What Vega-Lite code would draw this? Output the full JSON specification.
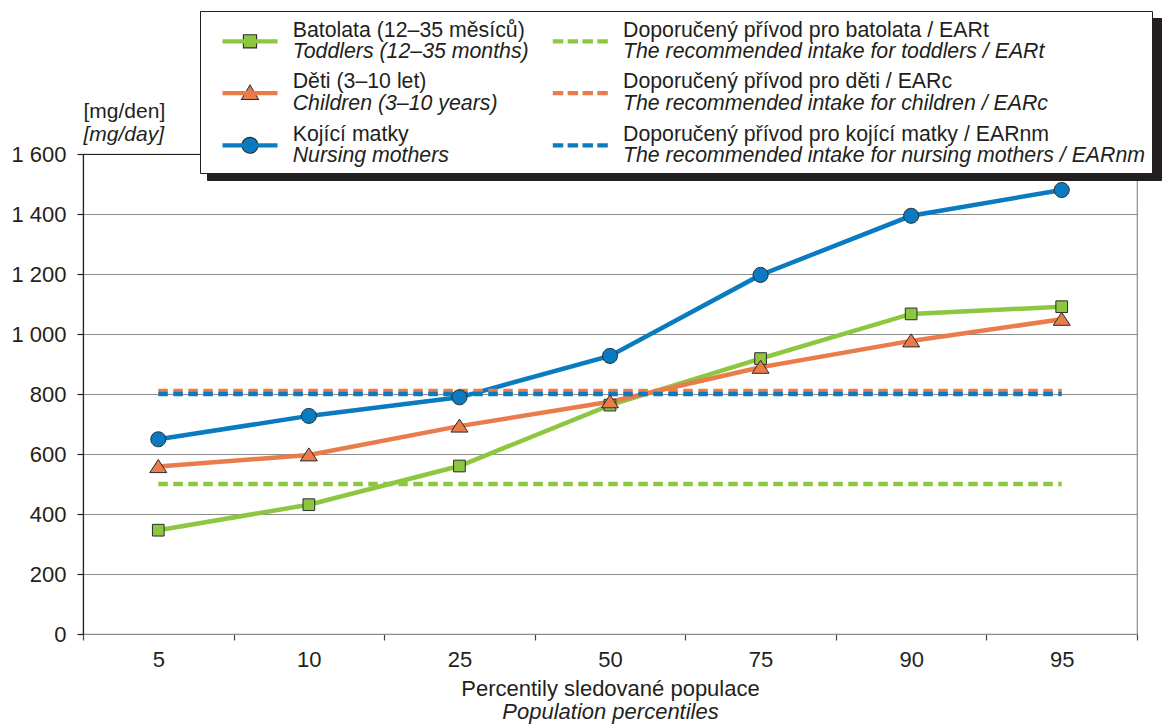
{
  "$schema": "https://vega.github.io/schema/vega-lite/v6.json",
  "width": 1054,
  "height": 480,
  "autosize": {"type": "none"},
  "padding": {"left": 83, "top": 154, "right": 25, "bottom": 90},
  "background": "white",
  "config": {
    "font": "Liberation Sans",
    "view": {"stroke": "#8c8c8c", "strokeWidth": 1.2},
    "axis": {"labelFont": "Liberation Sans", "titleFont": "Liberation Sans", "labelColor": "#231f20", "titleColor": "#231f20", "titleFontWeight": "normal"},
    "legend": {"labelFont": "Liberation Sans", "labelColor": "#231f20"}
  },
  "data": {
    "values": [
      {"p": "5", "v": 346, "s": "Batolata (12–35 měsíců)", "en": "Toddlers (12–35 months)"},
      {"p": "10", "v": 431, "s": "Batolata (12–35 měsíců)", "en": "Toddlers (12–35 months)"},
      {"p": "25", "v": 560, "s": "Batolata (12–35 měsíců)", "en": "Toddlers (12–35 months)"},
      {"p": "50", "v": 763, "s": "Batolata (12–35 měsíců)", "en": "Toddlers (12–35 months)"},
      {"p": "75", "v": 918, "s": "Batolata (12–35 měsíců)", "en": "Toddlers (12–35 months)"},
      {"p": "90", "v": 1067, "s": "Batolata (12–35 měsíců)", "en": "Toddlers (12–35 months)"},
      {"p": "95", "v": 1091, "s": "Batolata (12–35 měsíců)", "en": "Toddlers (12–35 months)"},
      {"p": "5", "v": 558, "s": "Děti (3–10 let)", "en": "Children (3–10 years)"},
      {"p": "10", "v": 597, "s": "Děti (3–10 let)", "en": "Children (3–10 years)"},
      {"p": "25", "v": 693, "s": "Děti (3–10 let)", "en": "Children (3–10 years)"},
      {"p": "50", "v": 774, "s": "Děti (3–10 let)", "en": "Children (3–10 years)"},
      {"p": "75", "v": 889, "s": "Děti (3–10 let)", "en": "Children (3–10 years)"},
      {"p": "90", "v": 977, "s": "Děti (3–10 let)", "en": "Children (3–10 years)"},
      {"p": "95", "v": 1049, "s": "Děti (3–10 let)", "en": "Children (3–10 years)"},
      {"p": "5", "v": 649, "s": "Kojící matky", "en": "Nursing mothers"},
      {"p": "10", "v": 727, "s": "Kojící matky", "en": "Nursing mothers"},
      {"p": "25", "v": 789, "s": "Kojící matky", "en": "Nursing mothers"},
      {"p": "50", "v": 927, "s": "Kojící matky", "en": "Nursing mothers"},
      {"p": "75", "v": 1197, "s": "Kojící matky", "en": "Nursing mothers"},
      {"p": "90", "v": 1394, "s": "Kojící matky", "en": "Nursing mothers"},
      {"p": "95", "v": 1480, "s": "Kojící matky", "en": "Nursing mothers"},
      {"p": "5", "v": 500, "s": "Doporučený přívod pro batolata / EARt", "en": "The recommended intake for toddlers / EARt"},
      {"p": "95", "v": 500, "s": "Doporučený přívod pro batolata / EARt", "en": "The recommended intake for toddlers / EARt"},
      {"p": "5", "v": 810, "s": "Doporučený přívod pro děti / EARc", "en": "The recommended intake for children / EARc"},
      {"p": "95", "v": 810, "s": "Doporučený přívod pro děti / EARc", "en": "The recommended intake for children / EARc"},
      {"p": "5", "v": 800, "s": "Doporučený přívod pro kojící matky / EARnm", "en": "The recommended intake for nursing mothers / EARnm"},
      {"p": "95", "v": 800, "s": "Doporučený přívod pro kojící matky / EARnm", "en": "The recommended intake for nursing mothers / EARnm"}
    ]
  },
  "encoding": {
    "x": {
      "field": "p", "type": "ordinal", "bandPosition": 0.5,
      "scale": {"type": "band", "paddingInner": 0, "paddingOuter": 0, "domain": ["5", "10", "25", "50", "75", "90", "95"]},
      "axis": {
        "orient": "bottom", "tickBand": "extent", "grid": false,
        "domain": true, "domainColor": "#8c8c8c", "domainWidth": 1.2,
        "ticks": true, "tickColor": "#444444", "tickSize": 6, "tickWidth": 1.2,
        "labelFontSize": 22, "labelPadding": 9, "labelAngle": 0,
        "title": "Percentily sledované populace", "titleFontSize": 22, "titleBaseline": "alphabetic", "titleX": 527, "titleY": 61
      }
    },
    "y": {
      "field": "v", "type": "quantitative",
      "scale": {"domain": [0, 1600], "nice": false},
      "axis": {
        "orient": "left", "values": [0, 200, 400, 600, 800, 1000, 1200, 1400, 1600],
        "grid": true, "gridColor": "#8c8c8c", "gridWidth": 1.2,
        "domain": true, "domainColor": "#231f20", "domainWidth": 1.2,
        "ticks": true, "tickColor": "#231f20", "tickSize": 6, "tickWidth": 1.2,
        "labelFontSize": 22, "labelPadding": 11,
        "labelExpr": "replace(format(datum.value, ','), ',', ' ')",
        "title": "[mg/den]", "titleAngle": 0, "titleAlign": "left", "titleBaseline": "alphabetic", "titleX": 0, "titleY": -37, "titleFontSize": 21
      }
    },
    "color": {
      "field": "s", "type": "nominal",
      "scale": {
        "domain": ["Batolata (12–35 měsíců)", "Děti (3–10 let)", "Kojící matky", "Doporučený přívod pro batolata / EARt", "Doporučený přívod pro děti / EARc", "Doporučený přívod pro kojící matky / EARnm"],
        "range": ["#8DC63F", "#EA7B4B", "#0A7BC0", "#8DC63F", "#EA7B4B", "#0A7BC0"]
      },
      "legend": {
        "orient": "none", "legendX": 117, "legendY": -143, "title": null, "zindex": 3,
        "columns": 2, "columnPadding": 11.3, "rowPadding": 6.17, "padding": 6,
        "symbolSize": 2304, "symbolStrokeWidth": 0, "symbolOffset": 20, "labelOffset": 18.7,
        "labelFontSize": 21.3, "labelLimit": 900,
        "encode": {
          "symbols": {
            "update": {
              "shape": {"signal": "['M0,0.89 L0,0.89 M-1.146,-0.086 H1.146 V0.086 H-1.146 Z M-0.252,-0.252 H0.252 V0.252 H-0.252 Z', 'M0,0.89 L0,0.89 M-1.146,-0.086 H1.146 V0.086 H-1.146 Z M0,-0.309 L0.321,0.241 H-0.321 Z', 'M0,0.89 L0,0.89 M-1.146,-0.086 H1.146 V0.086 H-1.146 Z M-0.309,0 A0.309,0.309 0 1,1 0.309,0 A0.309,0.309 0 1,1 -0.309,0 Z', 'M0,0.89 L0,0.89 M-1.146,-0.086 H-0.71 V0.086 H-1.146 Z M-0.527,-0.086 H-0.092 V0.086 H-0.527 Z M0.092,-0.086 H0.527 V0.086 H0.092 Z M0.71,-0.086 H1.146 V0.086 H0.71 Z', 'M0,0.89 L0,0.89 M-1.146,-0.086 H-0.71 V0.086 H-1.146 Z M-0.527,-0.086 H-0.092 V0.086 H-0.527 Z M0.092,-0.086 H0.527 V0.086 H0.092 Z M0.71,-0.086 H1.146 V0.086 H0.71 Z', 'M0,0.89 L0,0.89 M-1.146,-0.086 H-0.71 V0.086 H-1.146 Z M-0.527,-0.086 H-0.092 V0.086 H-0.527 Z M0.092,-0.086 H0.527 V0.086 H0.092 Z M0.71,-0.086 H1.146 V0.086 H0.71 Z'][datum.index]"},
              "fill": {"signal": "scale('color', datum.value)"},
              "stroke": {"value": "transparent"},
              "strokeWidth": {"value": 0},
              "opacity": {"value": 1}
            }
          },
          "labels": {"update": {"dy": {"value": -10.75}}}
        }
      }
    },
    "opacity": {
      "field": "en", "type": "nominal",
      "scale": {
        "domain": ["Toddlers (12–35 months)", "Children (3–10 years)", "Nursing mothers", "The recommended intake for toddlers / EARt", "The recommended intake for children / EARc", "The recommended intake for nursing mothers / EARnm"],
        "range": [1, 1]
      },
      "legend": {
        "orient": "none", "legendX": 117, "legendY": -143, "title": null, "zindex": 2,
        "fillColor": "#ffffff", "strokeColor": "#231f20",
        "columns": 2, "columnPadding": 7.3, "rowPadding": 6.17, "padding": 6,
        "symbolSize": 2304, "symbolStrokeWidth": 0, "symbolOffset": 20, "labelOffset": 18.7,
        "labelFontSize": 21.3, "labelFontStyle": "italic", "labelLimit": 900,
        "encode": {
          "symbols": {
            "update": {
              "shape": {"signal": "['M-1.146,0 L-1.146,0 M1.146,0 L1.146,0 M-0.298,-0.298 H0.298 V0.298 H-0.298 Z', 'M-1.146,0 L-1.146,0 M1.146,0 L1.146,0 M0,-0.378 L0.39,0.281 H-0.39 Z', 'M-1.146,0 L-1.146,0 M1.146,0 L1.146,0 M-0.355,0 A0.355,0.355 0 1,1 0.355,0 A0.355,0.355 0 1,1 -0.355,0 Z', 'M-1.146,0 L-1.146,0 M1.146,0 L1.146,0', 'M-1.146,0 L-1.146,0 M1.146,0 L1.146,0', 'M-1.146,0 L-1.146,0 M1.146,0 L1.146,0'][datum.index]"},
              "fill": {"value": "#2b2b2b"},
              "stroke": {"value": "transparent"},
              "strokeWidth": {"value": 0},
              "opacity": {"value": 1}
            }
          },
          "labels": {"update": {"dy": {"value": 11}}}
        }
      }
    }
  },
  "layer": [
    {
      "transform": [{"filter": "indexof(datum.s, 'EAR') < 0"}],
      "mark": {"type": "line", "strokeWidth": 4.5}
    },
    {
      "transform": [{"filter": "indexof(datum.s, 'EAR') >= 0"}],
      "mark": {"type": "line", "strokeWidth": 4.5, "strokeDash": [9.5, 5.5], "strokeCap": "butt"},
      "encoding": {
        "x": {
          "field": "p", "type": "ordinal", "bandPosition": 0.5,
          "scale": {"type": "band", "paddingInner": 0, "paddingOuter": 0, "domain": ["5", "10", "25", "50", "75", "90", "95"]},
          "axis": {
            "orient": "top", "grid": false, "ticks": false, "labels": false,
            "domain": true, "domainColor": "#231f20", "domainWidth": 1.2,
            "title": "Population percentiles", "titleFontStyle": "italic", "titleFontSize": 22, "titleBaseline": "alphabetic", "titleX": 527, "titleY": 564
          }
        },
        "y": {
          "field": "v", "type": "quantitative",
          "scale": {"domain": [0, 1600], "nice": false},
          "axis": {
            "orient": "left", "grid": false, "ticks": false, "labels": false, "domain": false,
            "title": "[mg/day]", "titleFontStyle": "italic", "titleAngle": 0, "titleAlign": "left", "titleBaseline": "alphabetic", "titleX": 0, "titleY": -14, "titleFontSize": 21
          }
        },
        "stroke": {
          "field": "en", "type": "nominal",
          "scale": {
            "domain": ["The recommended intake for toddlers / EARt", "The recommended intake for children / EARc", "The recommended intake for nursing mothers / EARnm", "Toddlers (12–35 months)", "Children (3–10 years)", "Nursing mothers"],
            "range": ["#8DC63F", "#EA7B4B", "#0A7BC0", "#8DC63F", "#EA7B4B", "#0A7BC0"]
          },
          "legend": {
            "orient": "none", "legendX": 124, "legendY": -136, "title": null, "zindex": 1,
            "fillColor": "#231f20", "strokeColor": "#231f20",
            "columns": 2, "columnPadding": 759.3, "rowPadding": 6.17, "padding": 6,
            "symbolSize": 2304, "symbolStrokeWidth": 0, "symbolOffset": 20, "labelOffset": 18.7,
            "labelFontSize": 21.3, "labelLimit": 900, "labelExpr": "''",
            "encode": {
              "symbols": {
                "update": {
                  "shape": {"value": "M-1.146,0 L-1.146,0 M1.946,0 L1.946,0 M0,0.89 L0,0.89"},
                  "fill": {"value": "transparent"},
                  "stroke": {"value": "transparent"},
                  "strokeWidth": {"value": 0},
                  "opacity": {"value": 0}
                }
              },
              "labels": {"update": {"dy": {"value": 11}}}
            }
          }
        }
      }
    },
    {
      "transform": [{"filter": "indexof(datum.s, 'EAR') < 0"}],
      "mark": {"type": "point", "filled": true, "stroke": "#2b2b2b", "strokeWidth": 1, "size": 100},
      "encoding": {
        "x": {
          "field": "p", "type": "ordinal", "bandPosition": 0.5,
          "scale": {"type": "band", "paddingInner": 0, "paddingOuter": 0, "domain": ["5", "10", "25", "50", "75", "90", "95"]},
          "axis": null
        },
        "y": {"field": "v", "type": "quantitative", "scale": {"domain": [0, 1600], "nice": false}, "axis": null},
        "shape": {
          "field": "s", "type": "nominal", "legend": null,
          "scale": {
            "domain": ["Batolata (12–35 měsíců)", "Děti (3–10 let)", "Kojící matky"],
            "range": ["M-1.17,-1.17 H1.17 V1.17 H-1.17 Z", "M0,-1.4 L1.7,1.2 H-1.7 Z", "M-1.5,0 A1.5,1.5 0 1,1 1.5,0 A1.5,1.5 0 1,1 -1.5,0 Z"]
          }
        }
      }
    }
  ],
  "resolve": {"axis": {"x": "independent", "y": "independent"}}
}
